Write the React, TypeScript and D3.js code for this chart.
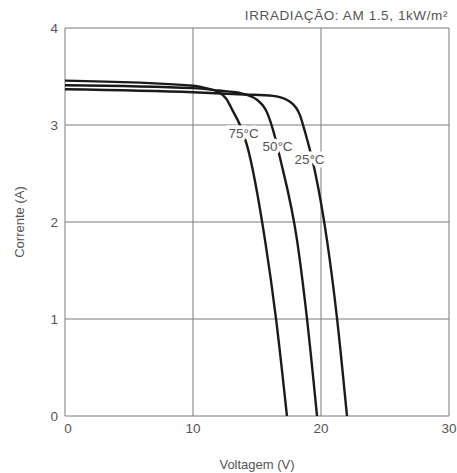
import React from 'react';
import * as d3 from 'd3';

// curve points: [voltage V, current A]
const curve75: [number, number][] = [
  [0, 3.457], [10, 3.405], [11, 3.38], [12.0, 3.34], [12.6, 3.27], [13.13, 3.14], [13.67, 3.0],
  [14.22, 2.79], [15.63, 1.81], [16.48, 1.01], [17.34, 0],
];
const curve50: [number, number][] = [
  [0, 3.41], [10, 3.38], [12, 3.355], [13.67, 3.33], [15.0, 3.26], [15.78, 3.13],
  [16.25, 2.95], [16.8, 2.66], [18.13, 1.81], [18.9, 1.01], [19.69, 0],
];
const curve25: [number, number][] = [
  [0, 3.368], [10, 3.337], [14, 3.315], [16.25, 3.3], [17.58, 3.24], [18.36, 3.1],
  [18.75, 2.93], [19.53, 2.52], [20.47, 1.81], [21.25, 1.01], [22.03, 0],
];
const curves = [curve75, curve50, curve25];
const curveLabels = ['75°C', '50°C', '25°C'];
// where each label sits on its curve (voltage, current)
const labelAt: [number, number][] = [[13.95, 2.9], [16.6, 2.77], [19.1, 2.63]];

const xTicks = [0, 10, 20, 30];
const yTicks = [0, 1, 2, 3, 4];
const title = 'IRRADIAÇÃO: AM 1.5, 1kW/m²';
const xTitle = 'Voltagem (V)';
const yTitle = 'Corrente (A)';

const W = 457;
const H = 473;
const margin = { top: 28, right: 8, bottom: 57, left: 65 };
const font = '"Liberation Sans", Arial, Helvetica, sans-serif';
const textColor = '#555';
const gridColor = '#7a7a7a';

export default function App() {
  const x = d3.scaleLinear().domain([0, 30]).range([margin.left, W - margin.right]);
  const y = d3.scaleLinear().domain([0, 4]).range([H - margin.bottom, margin.top]);

  const line = d3
    .line<[number, number]>()
    .x((d) => x(d[0]))
    .y((d) => y(d[1]))
    .curve(d3.curveMonotoneX);

  return (
    <svg
      width={W}
      height={H}
      style={{ position: 'absolute', left: 0, top: 0, background: '#fff' }}
      fontFamily={font}
    >
      {/* grid */}
      {xTicks.map((t) => (
        <line key={'gx' + t} x1={x(t)} x2={x(t)} y1={y(0)} y2={y(4)} stroke={gridColor} strokeWidth={1} />
      ))}
      {yTicks.map((t) => (
        <line key={'gy' + t} x1={x(0)} x2={x(30)} y1={y(t)} y2={y(t)} stroke={gridColor} strokeWidth={1} />
      ))}

      {/* curves */}
      {curves.map((c, i) => (
        <path key={'c' + i} d={line(c) ?? ''} fill="none" stroke="#1a1a1a" strokeWidth={2.4} />
      ))}

      {/* curve labels with white backing */}
      {curveLabels.map((l, i) => (
        <text
          key={'l' + i}
          x={x(labelAt[i][0])}
          y={y(labelAt[i][1])}
          textAnchor="middle"
          dominantBaseline="middle"
          fontSize={13.5}
          fill={textColor}
          stroke="#fff"
          strokeWidth={7}
          paintOrder="stroke"
        >
          {l}
        </text>
      ))}

      {/* tick labels */}
      {xTicks.map((t) => (
        <text key={'tx' + t} x={x(t) + (t === 0 ? 3 : 0)} y={y(0) + 17} textAnchor="middle" fontSize={13.5} fill={textColor}>
          {t}
        </text>
      ))}
      {yTicks.map((t) => (
        <text key={'ty' + t} x={x(0) - 7} y={y(t)} dy="0.35em" textAnchor="end" fontSize={13.5} fill={textColor}>
          {t}
        </text>
      ))}

      {/* titles */}
      <text x={W - 9} y={20} textAnchor="end" fontSize={13.5} fill={textColor} letterSpacing={0.6}>
        {title}
      </text>
      <text x={(x(0) + x(30)) / 2} y={469} textAnchor="middle" fontSize={13} fill={textColor}>
        {xTitle}
      </text>
      <text
        transform={`translate(24, ${y(2)}) rotate(-90)`}
        textAnchor="middle"
        fontSize={13}
        fill={textColor}
      >
        {yTitle}
      </text>
    </svg>
  );
}
